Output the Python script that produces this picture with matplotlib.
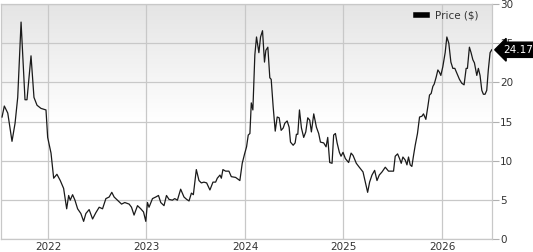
import matplotlib
matplotlib.use('Agg')
import matplotlib.pyplot as plt
import numpy as np

# fecha en años decimales, precio en $
fechas = [
    2021.534, 2021.557, 2021.592, 2021.635, 2021.666, 2021.693, 2021.727, 2021.767,
    2021.787, 2021.828, 2021.858, 2021.889, 2021.929, 2021.980, 2021.997, 2022.031,
    2022.058, 2022.091, 2022.125, 2022.159, 2022.190, 2022.210, 2022.226, 2022.250,
    2022.274, 2022.301, 2022.334, 2022.362, 2022.385, 2022.418, 2022.453, 2022.486,
    2022.520, 2022.554, 2022.588, 2022.621, 2022.648, 2022.672, 2022.706, 2022.747,
    2022.780, 2022.824, 2022.848, 2022.874, 2022.909, 2022.942, 2022.970, 2022.993,
    2023.010, 2023.026, 2023.061, 2023.094, 2023.122, 2023.145, 2023.178, 2023.203,
    2023.229, 2023.263, 2023.287, 2023.314, 2023.347, 2023.381, 2023.408, 2023.432,
    2023.456, 2023.476, 2023.506, 2023.533, 2023.557, 2023.583, 2023.611, 2023.644,
    2023.675, 2023.702, 2023.719, 2023.746, 2023.760, 2023.776, 2023.803, 2023.837,
    2023.861, 2023.905, 2023.948, 2023.972, 2023.996, 2024.016, 2024.033, 2024.050,
    2024.064, 2024.080, 2024.100, 2024.117, 2024.141, 2024.158, 2024.178, 2024.198,
    2024.212, 2024.232, 2024.252, 2024.266, 2024.286, 2024.307, 2024.327, 2024.347,
    2024.367, 2024.388, 2024.404, 2024.428, 2024.448, 2024.462, 2024.489, 2024.509,
    2024.522, 2024.536, 2024.553, 2024.573, 2024.596, 2024.617, 2024.637, 2024.657,
    2024.674, 2024.698, 2024.725, 2024.748, 2024.766, 2024.799, 2024.823, 2024.840,
    2024.860, 2024.884, 2024.900, 2024.918, 2024.935, 2024.958, 2024.975, 2024.995,
    2025.019, 2025.052, 2025.077, 2025.097, 2025.130, 2025.154, 2025.198, 2025.221,
    2025.245, 2025.265, 2025.289, 2025.316, 2025.340, 2025.363, 2025.391, 2025.424,
    2025.457, 2025.508, 2025.525, 2025.549, 2025.569, 2025.586, 2025.603, 2025.627,
    2025.644, 2025.660, 2025.677, 2025.694, 2025.711, 2025.728, 2025.751, 2025.772,
    2025.796, 2025.812, 2025.836, 2025.857, 2025.873, 2025.890, 2025.907, 2025.921,
    2025.941, 2025.958, 2025.974, 2025.988, 2026.008, 2026.032, 2026.049, 2026.069,
    2026.090, 2026.110, 2026.130, 2026.150, 2026.177, 2026.201, 2026.224, 2026.245,
    2026.258, 2026.278, 2026.295, 2026.313, 2026.329, 2026.353, 2026.369, 2026.386,
    2026.404, 2026.420, 2026.437, 2026.454, 2026.470, 2026.488, 2026.505,
]
precios = [
    15.6, 17.0, 16.1, 12.5, 14.8, 18.1, 27.7, 17.8,
    17.8, 23.4, 18.1, 17.1, 16.7, 16.5, 13.0, 11.0,
    7.8, 8.3, 7.5, 6.5, 3.9, 5.6, 5.0, 5.7,
    5.0, 3.9, 3.3, 2.3, 3.3, 3.8, 2.6, 3.4,
    4.1, 3.9, 5.2, 5.4, 6.0, 5.4, 5.0, 4.5,
    4.7, 4.5, 4.1, 3.1, 4.3, 3.9, 3.5, 2.3,
    4.7, 4.1, 5.2, 5.4, 5.6, 4.7, 4.3, 5.6,
    5.1, 5.0, 5.2, 5.0, 6.4, 5.4, 5.1, 4.9,
    5.9, 5.7, 8.9, 7.5, 7.2, 7.3, 7.2, 6.3,
    7.3, 7.3, 7.8, 8.2, 7.8, 8.9, 8.7, 8.7,
    8.0, 7.9, 7.5, 9.7, 10.9, 11.8, 13.3, 13.5,
    17.4, 16.5, 23.5, 25.8, 23.8, 25.8, 26.6, 22.6,
    24.1, 24.5, 20.6, 20.4, 16.9, 13.8, 15.6, 15.5,
    13.9, 14.2, 14.8, 15.1, 14.3, 12.4, 12.0, 12.3,
    13.4, 13.4, 16.5, 14.2, 13.0, 13.7, 15.5, 15.2,
    13.7, 16.0, 14.3, 13.5, 12.4, 12.3, 11.8, 13.0,
    9.8, 9.7, 13.3, 13.5, 12.3, 11.1, 10.6, 11.1,
    10.3, 9.8, 11.0, 10.7, 9.7, 9.3, 8.6, 7.3,
    6.0, 7.3, 8.2, 8.8, 7.5, 8.2, 8.6, 9.2,
    8.7, 8.7, 10.6, 10.9, 10.3, 9.7, 10.5, 10.1,
    9.5, 10.5, 9.5, 9.3, 10.7, 12.0, 13.5, 15.6,
    15.7, 16.0, 15.3, 17.0, 18.4, 18.6, 19.5, 19.8,
    20.7, 21.6, 21.3, 20.9, 22.0, 23.8, 25.8, 25.0,
    22.6, 21.8, 21.8, 21.2, 20.4, 19.9, 19.7, 21.8,
    21.8, 24.5, 23.8, 22.9, 22.5, 20.9, 21.8, 20.9,
    19.0, 18.5, 18.5, 19.0, 21.6, 23.8, 24.17,
]
anios = [2022, 2023, 2024, 2025, 2026]
niveles = [0, 5, 10, 15, 20, 25, 30]
ultimo = precios[-1]

fig = plt.figure(figsize=(5.33, 2.52), dpi=100)
ax = fig.add_axes([0.002, 0.05, 0.921, 0.934])

# fondo degradado: gris arriba -> blanco a media altura
grad = np.linspace(0.0, 1.0, 256).reshape(-1, 1)
grad = np.clip(0.895 + 0.105 * (grad * 2.0), 0.895, 1.0)
ax.imshow(np.dstack([grad, grad, grad]), extent=[0, 1, 0, 1], transform=ax.transAxes,
          aspect='auto', zorder=0)

ax.plot(fechas, precios, color='#1a1a1a', linewidth=0.9, label='Price ($)', zorder=3)

ax.set_xlim(2021.524, 2026.507)
ax.set_ylim(0, 30)
ax.set_xticks(anios)
ax.set_xticklabels([str(a) for a in anios])
ax.set_yticks(niveles)
ax.grid(True, color='#c8c8c8', linewidth=0.9, zorder=1)
ax.set_axisbelow(True)

ax.yaxis.tick_right()
ax.tick_params(axis='y', length=5, width=0.8, color='#b0b0b0', pad=1,
               labelsize=7.5, labelcolor='#333333')
ax.tick_params(axis='x', length=0, pad=2, labelsize=7.5, labelcolor='#333333')
for s in ax.spines.values():
    s.set_color('#c8c8c8')
    s.set_linewidth(0.9)

leg = ax.legend(loc='upper right', frameon=False, fontsize=7.5, handlelength=1.0,
                handleheight=0.5, borderaxespad=0.2, bbox_to_anchor=(0.985, 1.0))
for h in leg.legend_handles:
    h.set_linewidth(4)
    h.set_color('black')
for t in leg.get_texts():
    t.set_color('#333333')

ax.annotate(f'{ultimo:.2f}', xy=(1.0, ultimo), xycoords=('axes fraction', 'data'),
            xytext=(8, 0), textcoords='offset points', va='center', ha='left',
            fontsize=7.5, color='white', zorder=10,
            bbox=dict(boxstyle='larrow,pad=0.25', fc='black', ec='black'))

fig.savefig('out.png', dpi=100)
